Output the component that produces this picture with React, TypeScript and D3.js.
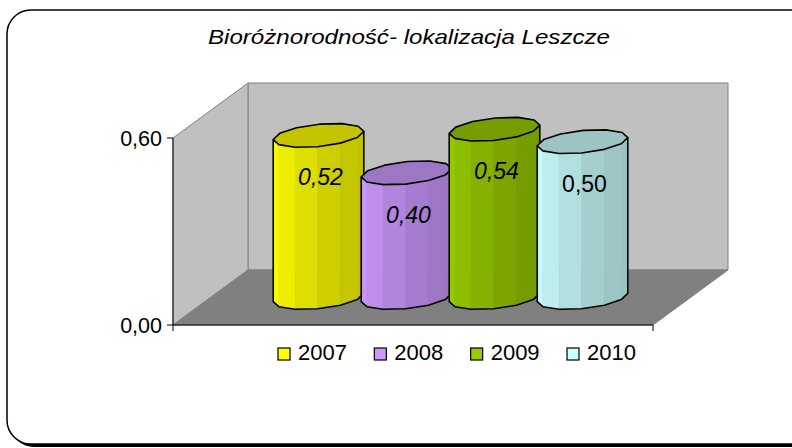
import * as d3 from "d3";

const years = ["2007", "2008", "2009", "2010"];
const values = [0.52, 0.4, 0.54, 0.5];
const labels = ["0,52", "0,40", "0,54", "0,50"];
const italicLabel = [true, true, true, false];
const colors = ["#FFFF00", "#CC99FF", "#99CC00", "#CCFFFF"];
const yTicks = [0, 0.6];

const W = 792;
const H = 448;
// plot frame (front plane) and the oblique depth offset
const plot = { left: 173, right: 653, top: 138, bottom: 325 };
const DX = 75;
const DY = -55;
const SIDES = 12;

const fmt = (v: number) => d3.format(".2f")(v).replace(".", ",");

function shade(c: string, k: number) {
    const rgb = d3.rgb(c);
    return d3.rgb(rgb.r * k, rgb.g * k, rgb.b * k).formatHex();
}

function Cylinder({ cx, yBase, yTop, r, rd, color }: any) {
    const pt = (t: number, yy: number): [number, number] => [
        cx + r * Math.cos(t) + DX * rd * Math.sin(t),
        yy + DY * rd * Math.sin(t),
    ];
    const angles = d3.range(SIDES + 1).map(i => (2 * Math.PI * i) / SIDES + 0.35);
    const vis = d3.range(SIDES).map(i => {
        const m = (angles[i] + angles[i + 1]) / 2;
        return -r * Math.sin(m) + DX * rd * Math.cos(m) > 0;
    });
    let s = 0;
    for (let i = 0; i < SIDES; i++) {
        if (vis[i] && !vis[(i - 1 + SIDES) % SIDES]) s = i;
    }
    const order: number[] = [];
    for (let k = 0; k < SIDES; k++) {
        const i = (s + k) % SIDES;
        if (!vis[i]) break;
        order.push(i);
    }
    const line = d3.line();
    const faces = order.map(i => {
        const a = angles[i];
        const b = angles[i + 1];
        const m = (a + b) / 2;
        const u = (Math.cos(m) + 1) / 2;
        return {
            d: line([pt(a, yTop), pt(b, yTop), pt(b, yBase), pt(a, yBase)]) + "Z",
            fill: shade(color, 1 - 0.24 * u),
        };
    });
    const outline: [number, number][] = [pt(angles[order[0]], yTop)];
    order.forEach((i, k) => {
        if (k === 0) outline.push(pt(angles[i], yBase));
        outline.push(pt(angles[i + 1], yBase));
    });
    outline.push(pt(angles[order[order.length - 1] + 1], yTop));
    const topPts = angles.slice(0, SIDES).map(a => pt(a, yTop));

    return (
        <g>
            {faces.map((f, i) => (
                <path key={i} d={f.d} fill={f.fill} stroke={f.fill} strokeWidth={0.6} />
            ))}
            <path d={line(topPts) + "Z"} fill={shade(color, 0.77)} stroke="#000" strokeWidth={1.6} strokeLinejoin="round" />
            <path d={line(outline) as string} fill="none" stroke="#000" strokeWidth={1.6} strokeLinejoin="round" />
        </g>
    );
}

export default function App() {
    const y = d3.scaleLinear().domain([0, 0.6]).range([plot.bottom, plot.top]);
    const x = d3.scaleBand<string>().domain(years).range([plot.left + 64, plot.right - 64]);
    const bw = x.bandwidth();
    const legendX = d3.scalePoint<string>().domain(years).range([278, 567]);

    const backWall = [
        [plot.left + DX, plot.top + DY],
        [plot.right + DX, plot.top + DY],
        [plot.right + DX, plot.bottom + DY],
        [plot.left + DX, plot.bottom + DY],
    ];
    const sideWall = [
        [plot.left, plot.top],
        [plot.left + DX, plot.top + DY],
        [plot.left + DX, plot.bottom + DY],
        [plot.left, plot.bottom],
    ];
    const floor = [
        [plot.left, plot.bottom],
        [plot.right, plot.bottom],
        [plot.right + DX, plot.bottom + DY],
        [plot.left + DX, plot.bottom + DY],
    ];
    const poly = (p: number[][]) => (d3.line()(p as [number, number][]) as string) + "Z";

    return (
        <svg width={W} height={H} style={{ position: "absolute", left: 0, top: 0, display: "block" }}
            fontFamily="'Liberation Sans', Arial, sans-serif">
            <rect x={0} y={0} width={W} height={H} fill="#fff" />
            <rect x={10} y={13} width={W + 20} height={434} rx={24} fill="#000" />
            <rect x={7} y={10} width={W + 20} height={434} rx={24} fill="#fff" stroke="#000" strokeWidth={1.5} />

            <text x={208} y={44} fontSize={21} fontStyle="italic" textLength={402} lengthAdjust="spacingAndGlyphs">
                Bioróżnorodność- lokalizacja Leszcze
            </text>

            <path d={poly(backWall)} fill="#C0C0C0" stroke="#808080" strokeWidth={1} />
            <path d={poly(sideWall)} fill="#C0C0C0" stroke="#808080" strokeWidth={1} />
            <path d={poly(floor)} fill="#808080" stroke="#808080" strokeWidth={1} />

            <line x1={plot.left} x2={plot.left} y1={plot.top} y2={plot.bottom} stroke="#000" />
            <line x1={plot.left} x2={plot.right} y1={plot.bottom} y2={plot.bottom} stroke="#000" />
            <line x1={plot.right} x2={plot.right} y1={plot.bottom} y2={plot.bottom + 6} stroke="#000" />
            <line x1={plot.left} x2={plot.left} y1={plot.bottom} y2={plot.bottom + 6} stroke="#000" />
            {yTicks.map(t => (
                <g key={t}>
                    <line x1={plot.left - 6} x2={plot.left} y1={y(t)} y2={y(t)} stroke="#000" />
                    <text x={162} y={y(t) + 8} textAnchor="end" fontSize={21.5}>{fmt(t)}</text>
                </g>
            ))}

            {years.map((yr, i) => {
                const cx = (x(yr) as number) + bw / 2 + DX / 2;
                const yBase = y(0) + DY / 2;
                const yTop = y(values[i]) + DY / 2;
                return (
                    <g key={yr}>
                        <Cylinder cx={cx} yBase={yBase} yTop={yTop} r={bw * 0.48} rd={0.218} color={colors[i]} />
                        <text x={cx + 2} y={yTop + 50} textAnchor="middle" fontSize={23}
                            fontStyle={italicLabel[i] ? "italic" : "normal"}>{labels[i]}</text>
                    </g>
                );
            })}

            {years.map((yr, i) => (
                <g key={yr} transform={`translate(${legendX(yr)},348)`}>
                    <rect x={0} y={0} width={12} height={12} fill={colors[i]} stroke="#000" strokeWidth={1.2} />
                    <text x={20} y={12} fontSize={22}>{yr}</text>
                </g>
            ))}
        </svg>
    );
}
